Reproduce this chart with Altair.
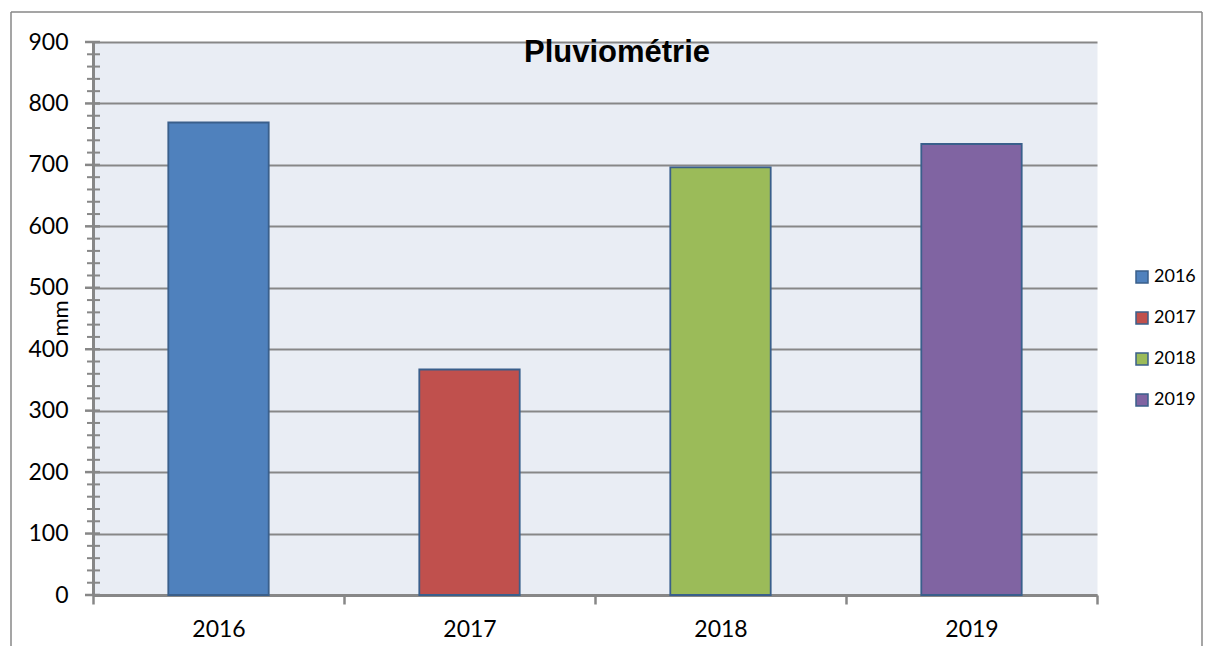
import altair as alt
import pandas as pd

# ---- data ----
years = ["2016", "2017", "2018", "2019"]
values = [769, 367, 696, 734]
colors = ["#4F81BD", "#C0504D", "#9BBB59", "#8064A2"]
y_major = [0, 100, 200, 300, 400, 500, 600, 700, 800, 900]
y_minor = [v for v in range(0, 901, 20) if v % 100 != 0]
title_text = "Pluviométrie"
y_title = "mm"

GRAY = "#878787"
EDGE = "#3A5F8B"
FONT = "Lato"

df = pd.DataFrame({"year": years, "mm": values})

x_enc = alt.X("year:N", title=None,
              scale=alt.Scale(paddingInner=0, paddingOuter=0),
              axis=alt.Axis(labelAngle=0, labelFont=FONT, labelFontSize=23,
                            labelFontWeight="normal",
                            labelColor="black", labelPadding=14,
                            tickBand="extent", tickSize=9, tickColor=GRAY, tickWidth=2.5,
                            domainColor=GRAY, domainWidth=3, grid=False))
y_scale = alt.Scale(domain=[0, 900], nice=False)

bars = alt.Chart(df).mark_bar(
    width=alt.RelativeBandSize(0.4), stroke=EDGE, strokeWidth=1.8
).encode(
    x=x_enc,
    y=alt.Y("mm:Q", scale=y_scale, title=y_title,
            axis=alt.Axis(values=y_major, ticks=False, labelPadding=25,
                          labelFont=FONT, labelFontSize=23, labelColor="black",
                          gridColor=GRAY, gridWidth=2, domainColor=GRAY, domainWidth=3,
                          titleFont=FONT, titleFontSize=22, titleFontWeight="normal",
                          titleColor="black", titleAngle=270, titleAlign="center",
                          titleBaseline="middle", titleX=-33, titleY=276)),
    color=alt.Color("year:N", scale=alt.Scale(domain=years, range=colors),
                    legend=alt.Legend(title=None, orient="none", legendX=1040, legendY=226,
                                      symbolType="square", symbolSize=144,
                                      symbolStrokeColor=EDGE, symbolStrokeWidth=1.5,
                                      labelFont=FONT, labelFontSize=18, labelColor="black",
                                      labelOffset=3, rowPadding=23, padding=0)),
)

major_ticks = alt.Chart(pd.DataFrame({"v": y_major})).mark_rule(
    color=GRAY, strokeWidth=2.5
).encode(y=alt.Y("v:Q", scale=y_scale), x=alt.value(-8), x2=alt.value(7))

minor_ticks = alt.Chart(pd.DataFrame({"v": y_minor})).mark_rule(
    color=GRAY, strokeWidth=2
).encode(y=alt.Y("v:Q", scale=y_scale), x=alt.value(-6), x2=alt.value(7))

border_left = alt.Chart(pd.DataFrame({"s": ["left"]})).mark_rule(color=GRAY, strokeWidth=1.5).encode(
    x=alt.value(-82), y=alt.value(-30), y2=alt.value(604))
border_top = alt.Chart(pd.DataFrame({"s": ["top"]})).mark_rule(color=GRAY, strokeWidth=1.5).encode(
    x=alt.value(-82), x2=alt.value(1109), y=alt.value(-30))
border_right = alt.Chart(pd.DataFrame({"s": ["right"]})).mark_rule(color=GRAY, strokeWidth=1.5).encode(
    x=alt.value(1109), y=alt.value(-30), y2=alt.value(604))

title = alt.Chart(pd.DataFrame({"t": [title_text]})).mark_text(
    font="Liberation Sans", fontSize=31, fontWeight="bold", color="black",
    align="center", baseline="alphabetic"
).encode(text="t:N", x=alt.value(524), y=alt.value(20))

chart = alt.layer(
    bars, major_ticks, minor_ticks, border_left, border_top, border_right, title
).properties(
    width=1004, height=553,
    autosize=alt.AutoSizeParams(type="none"),
    padding={"left": 85, "top": 34, "right": 106, "bottom": 51},
    background="white",
).configure_view(fill="#E9EDF4", stroke="transparent")

chart.save("out.html", embed_options={"renderer": "svg", "actions": False})
